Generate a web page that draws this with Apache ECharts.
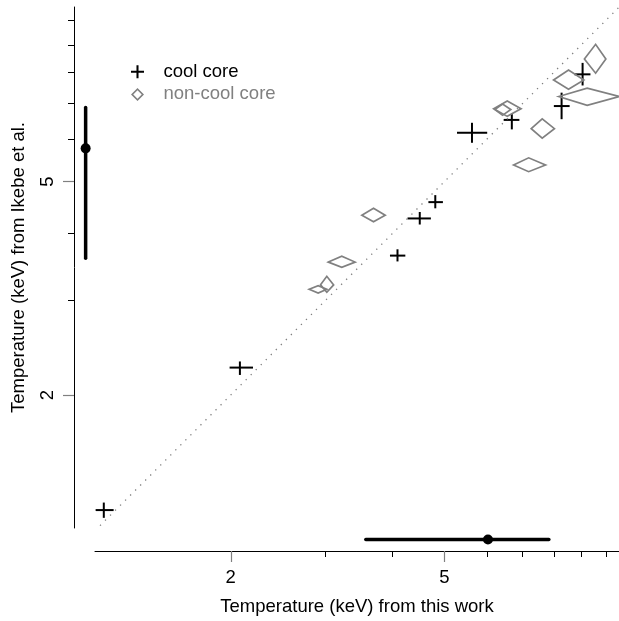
<!DOCTYPE html>
<html>
<head>
<meta charset="utf-8">
<script src="https://cdn.jsdelivr.net/npm/echarts@6/dist/echarts.min.js"></script>
<style>
html,body{margin:0;padding:0;background:#fff;}
#chart{width:619px;height:621px;}
</style>
</head>
<body>
<div id="chart"></div>
<script>
// ---- data (keV) ----
var coolX   = [1.16, 2.08, 4.09, 4.50, 4.81, 5.63, 6.68, 8.27, 9.05];
var coolXlo = [1.12, 1.99, 3.96, 4.27, 4.67, 5.28, 6.45, 8.00, 8.74];
var coolXhi = [1.21, 2.20, 4.23, 4.72, 4.97, 6.01, 6.90, 8.56, 9.36];
var coolY   = [1.22, 2.25, 3.64, 4.27, 4.58, 6.17, 6.52, 6.92, 7.93];
var coolYlo = [1.18, 2.18, 3.55, 4.16, 4.46, 5.91, 6.26, 6.54, 7.56];
var coolYhi = [1.26, 2.31, 3.74, 4.39, 4.72, 6.44, 6.69, 7.33, 8.33];

var ncX   = [2.91, 3.02, 3.22, 3.69, 6.42, 6.55, 7.18, 7.61, 8.52, 9.23, 9.57];
var ncXlo = [2.80, 2.94, 3.04, 3.51, 6.21, 6.18, 6.73, 7.26, 7.99, 8.17, 9.12];
var ncXhi = [3.02, 3.11, 3.41, 3.88, 6.65, 6.95, 7.72, 8.02, 9.10, 10.58, 10.00];
var ncY   = [3.15, 3.21, 3.54, 4.33, 6.82, 6.84, 5.37, 6.28, 7.74, 7.21, 8.47];
var ncYlo = [3.10, 3.11, 3.46, 4.21, 6.65, 6.62, 5.22, 6.03, 7.44, 6.94, 7.97];
var ncYhi = [3.20, 3.33, 3.63, 4.46, 6.98, 7.07, 5.54, 6.55, 8.08, 7.47, 9.02];

// typical error bars: [centre, low, high] and fixed position on the other axis
var typErrX = [6.03, 3.57, 7.83]; var typErrXAtY = 1.075;
var typErrY = [5.77, 3.60, 6.88]; var typErrYAtX = 1.073;

var identityLine = [1.117, 10.58];

var majorTicks = [2, 5];
var minorTicks = [3, 4, 6, 7, 8, 9, 10];

var xRange = [1.117, 10.58];
var yRange = [1.1296, 10.59];

var FONT = 'Liberation Sans, Arial, Helvetica, sans-serif';
var FS = 18.5;

function rows(a, alo, ahi, b, blo, bhi) {
  return a.map(function (v, i) { return [v, alo[i], ahi[i], b[i], blo[i], bhi[i]]; });
}
var coolData = rows(coolX, coolXlo, coolXhi, coolY, coolYlo, coolYhi);
var ncData = rows(ncX, ncXlo, ncXhi, ncY, ncYlo, ncYhi);

function crossItem(params, api) {
  var x = api.value(0), xl = api.value(1), xh = api.value(2);
  var y = api.value(3), yl = api.value(4), yh = api.value(5);
  var c = api.coord([x, y]), l = api.coord([xl, y]), r = api.coord([xh, y]);
  var t = api.coord([x, yh]), b = api.coord([x, yl]);
  var st = { stroke: '#000', lineWidth: 2 };
  return { type: 'group', children: [
    { type: 'line', shape: { x1: l[0], y1: c[1], x2: r[0], y2: c[1] }, style: st },
    { type: 'line', shape: { x1: c[0], y1: t[1], x2: c[0], y2: b[1] }, style: st }
  ]};
}
function diamondItem(params, api) {
  var x = api.value(0), xl = api.value(1), xh = api.value(2);
  var y = api.value(3), yl = api.value(4), yh = api.value(5);
  var c = api.coord([x, y]), l = api.coord([xl, y]), r = api.coord([xh, y]);
  var t = api.coord([x, yh]), b = api.coord([x, yl]);
  return { type: 'polygon',
    shape: { points: [[l[0], c[1]], [c[0], t[1]], [r[0], c[1]], [c[0], b[1]]] },
    style: { fill: 'none', stroke: '#808080', lineWidth: 1.7 } };
}
function errItem(params, api) {
  var horiz = api.value(0) === 1;
  var cv = api.value(1), lo = api.value(2), hi = api.value(3), at = api.value(4);
  var c, a, b;
  if (horiz) { c = api.coord([cv, at]); a = api.coord([lo, at]); b = api.coord([hi, at]); }
  else { c = api.coord([at, cv]); a = api.coord([at, lo]); b = api.coord([at, hi]); }
  return { type: 'group', children: [
    { type: 'line', shape: { x1: a[0], y1: a[1], x2: b[0], y2: b[1] }, style: { stroke: '#000', lineWidth: 3.5, lineCap: 'round' } },
    { type: 'circle', shape: { cx: c[0], cy: c[1], r: 5 }, style: { fill: '#000' } }
  ]};
}

function baseAxis(extra) {
  var o = {
    type: 'log', logBase: 10, gridIndex: 0,
    splitLine: { show: false }, minorTick: { show: false }, minorSplitLine: { show: false }
  };
  for (var k in extra) o[k] = extra[k];
  return o;
}

var chart = echarts.init(document.getElementById('chart'), null, { renderer: 'canvas' });
chart.setOption({
  animation: false,
  backgroundColor: '#fff',
  textStyle: { fontFamily: FONT },
  grid: { left: 95, top: 7, width: 524, height: 521, containLabel: false },
  legend: {
    orient: 'vertical', left: 126, top: 56.7, itemGap: 2.7,
    itemWidth: 42, itemHeight: 13,
    textStyle: { fontFamily: FONT, fontSize: FS, lineHeight: 20 },
    data: [
      { name: 'cool core', icon: 'path://M5.9,0H8.1V5.9H14V8.1H8.1V14H5.9V8.1H0V5.9H5.9Z',
        itemStyle: { color: '#000' }, textStyle: { color: '#000' } },
      { name: 'non-cool core', icon: 'path://M6,0L12,6L6,12L0,6Z M6,2.1L2.1,6L6,9.9L9.9,6Z',
        itemStyle: { color: '#808080' }, textStyle: { color: '#808080' } }
    ],
    selectedMode: false
  },
  xAxis: [
    baseAxis({
      position: 'bottom', offset: 23, min: xRange[0], max: xRange[1],
      axisLine: { show: true, lineStyle: { color: '#000', width: 1 } },
      axisTick: { show: true, length: 11, customValues: majorTicks, lineStyle: { color: '#808080', width: 1.2 } },
      axisLabel: { show: true, customValues: majorTicks, margin: 17, fontSize: FS, color: '#000', fontFamily: FONT },
      name: 'Temperature (keV) from this work', nameLocation: 'middle', nameGap: 46,
      nameTextStyle: { fontSize: FS, color: '#000', fontFamily: FONT }
    }),
    baseAxis({
      position: 'bottom', offset: 23, min: xRange[0], max: xRange[1],
      axisLine: { show: false },
      axisTick: { show: true, length: 6, customValues: minorTicks, lineStyle: { color: '#000', width: 1 } },
      axisLabel: { show: false }
    })
  ],
  yAxis: [
    baseAxis({
      position: 'left', offset: 21, min: yRange[0], max: yRange[1],
      axisLine: { show: true, lineStyle: { color: '#000', width: 1 } },
      axisTick: { show: true, length: 11, customValues: majorTicks, lineStyle: { color: '#808080', width: 1.2 } },
      axisLabel: { show: true, customValues: majorTicks, rotate: 90, margin: 17, fontSize: FS, color: '#000', fontFamily: FONT },
      name: 'Temperature (keV) from Ikebe et al.', nameLocation: 'middle', nameGap: 46,
      nameTextStyle: { fontSize: FS, color: '#000', fontFamily: FONT }
    }),
    baseAxis({
      position: 'left', offset: 21, min: yRange[0], max: yRange[1],
      axisLine: { show: false },
      axisTick: { show: true, length: 6, customValues: minorTicks, lineStyle: { color: '#000', width: 1 } },
      axisLabel: { show: false }
    })
  ],
  series: [
    {
      name: 'identity', type: 'line', xAxisIndex: 0, yAxisIndex: 0, silent: true,
      data: identityLine.map(function (v) { return [v, v]; }),
      symbol: 'none', clip: true,
      lineStyle: { color: '#808080', width: 1.3, type: [1.3, 5.8] }
    },
    {
      name: 'cool core', type: 'custom', xAxisIndex: 0, yAxisIndex: 0,
      data: coolData, encode: { x: 0, y: 3 }, renderItem: crossItem, clip: false,
      itemStyle: { color: '#000' }
    },
    {
      name: 'non-cool core', type: 'custom', xAxisIndex: 0, yAxisIndex: 0,
      data: ncData, encode: { x: 0, y: 3 }, renderItem: diamondItem, clip: false,
      itemStyle: { color: '#808080' }
    },
    {
      name: 'typical', type: 'custom', xAxisIndex: 0, yAxisIndex: 0, clip: false,
      data: [
        [1, typErrX[0], typErrX[1], typErrX[2], typErrXAtY],
        [0, typErrY[0], typErrY[1], typErrY[2], typErrYAtX]
      ],
      encode: { x: 1, y: 4 },
      renderItem: errItem
    }
  ]
});
</script>
</body>
</html>
